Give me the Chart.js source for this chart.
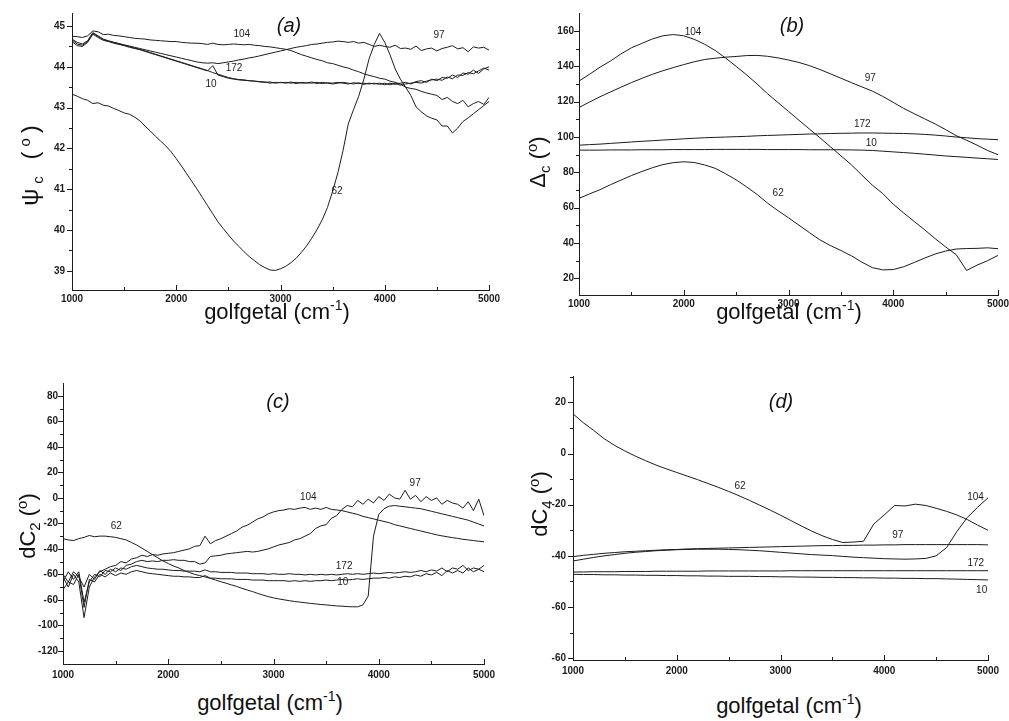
<!DOCTYPE html>
<html>
<head>
<meta charset="utf-8">
<script src="https://cdn.jsdelivr.net/npm/chart.js@4/dist/chart.umd.min.js"></script>
<style>
html,body{margin:0;padding:0;background:#fff;}
#wrap{position:relative;width:1009px;height:721px;overflow:hidden;font-family:'Liberation Sans',Arial,sans-serif;color:#111;}
canvas{position:absolute;}
.yt{position:absolute;font-size:22px;white-space:nowrap;transform:translate(-50%,-50%) rotate(-90deg);line-height:1;}
.xt{position:absolute;font-size:22px;white-space:nowrap;transform:translate(-50%,-50%);line-height:1;}
.pl{position:absolute;font-size:20px;font-style:italic;transform:translate(-50%,-50%);line-height:1;}
.sb{font-size:15px;position:relative;top:5px;}
.sp{font-size:14px;position:relative;top:-9px;}
.dg{font-size:15px;position:relative;top:-8px;}
.wide{font-size:24px;letter-spacing:5px;}
</style>
</head>
<body>
<div id="wrap">
<canvas id="cA"></canvas>
<canvas id="cB"></canvas>
<canvas id="cC"></canvas>
<canvas id="cD"></canvas>
<div class="yt wide" style="left:30px;top:163px">ψ<span class="sb">c</span> (<span class="dg">o</span>)</div>
<div class="yt" style="left:538px;top:162px">Δ<span class="sb">c</span> (<span class="dg">o</span>)</div>
<div class="yt" style="left:28px;top:526px">dC<span class="sb">2</span> (<span class="dg">o</span>)</div>
<div class="yt" style="left:540px;top:504px">dC<span class="sb">4</span> (<span class="dg">o</span>)</div>
<div class="xt" style="left:277px;top:312px">golfgetal (cm<span class="sp">-1</span>)</div>
<div class="xt" style="left:789px;top:312px">golfgetal (cm<span class="sp">-1</span>)</div>
<div class="xt" style="left:270px;top:703px">golfgetal (cm<span class="sp">-1</span>)</div>
<div class="xt" style="left:789px;top:706px">golfgetal (cm<span class="sp">-1</span>)</div>
<div class="pl" style="left:289px;top:25px">(a)</div>
<div class="pl" style="left:792px;top:25px">(b)</div>
<div class="pl" style="left:278px;top:401px">(c)</div>
<div class="pl" style="left:781px;top:401px">(d)</div>
</div>
<script>
// ---------- wavenumber grids (cm^-1) ----------
const wn50 = [1000,1050,1100,1150,1200,1250,1300,1350,1400,1450,
  1500,1550,1600,1650,1700,1750,1800,1850,1900,1950,
  2000,2050,2100,2150,2200,2250,2300,2350,2400,2450,
  2500,2550,2600,2650,2700,2750,2800,2850,2900,2950,
  3000,3050,3100,3150,3200,3250,3300,3350,3400,3450,
  3500,3550,3600,3650,3700,3750,3800,3850,3900,3950,
  4000,4050,4100,4150,4200,4250,4300,4350,4400,4450,
  4500,4550,4600,4650,4700,4750,4800,4850,4900,4950,
  5000];
const wn100 = [1000,1100,1200,1300,1400,1500,1600,1700,1800,1900,
  2000,2100,2200,2300,2400,2500,2600,2700,2800,2900,
  3000,3100,3200,3300,3400,3500,3600,3700,3800,3900,
  4000,4100,4200,4300,4400,4500,4600,4700,4800,4900,
  5000];

// ---------- (a) psi_c ----------
const psi104 = [44.75,44.74,44.72,44.76,44.88,44.86,44.79,44.80,44.77,44.76,
  44.74,44.72,44.70,44.69,44.68,44.66,44.65,44.64,44.63,44.62,
  44.62,44.60,44.59,44.58,44.58,44.57,44.55,44.58,44.55,44.54,
  44.55,44.56,44.55,44.54,44.55,44.53,44.52,44.50,44.49,44.47,
  44.45,44.43,44.40,44.35,44.30,44.26,44.22,44.18,44.15,44.10,
  44.08,44.04,44.00,43.97,43.92,43.88,43.83,43.79,43.76,43.72,
  43.70,43.65,43.62,43.58,43.50,43.47,43.45,43.40,43.36,43.33,
  43.30,43.20,43.25,43.15,43.10,43.18,43.02,43.10,43.15,43.08,
  43.25];
const psi97 = [44.66,44.56,44.53,44.62,44.82,44.75,44.67,44.63,44.60,44.57,
  44.54,44.51,44.48,44.45,44.42,44.39,44.36,44.33,44.30,44.27,
  44.24,44.21,44.18,44.15,44.12,44.10,44.09,44.10,44.08,44.10,
  44.12,44.14,44.17,44.19,44.22,44.24,44.27,44.30,44.33,44.36,
  44.39,44.42,44.45,44.48,44.50,44.52,44.55,44.56,44.58,44.60,
  44.61,44.63,44.62,44.60,44.62,44.58,44.60,44.55,44.50,44.53,
  44.50,44.48,44.53,44.45,44.46,44.43,44.51,44.40,44.44,44.46,
  44.39,44.45,44.48,44.52,44.44,44.47,44.37,44.49,44.46,44.48,
  44.41];
const psi172 = [44.68,44.60,44.56,44.64,44.84,44.76,44.68,44.64,44.60,44.57,
  44.53,44.50,44.46,44.43,44.39,44.35,44.31,44.27,44.23,44.19,
  44.15,44.11,44.07,44.03,43.99,43.95,43.91,43.86,43.82,43.78,
  43.74,43.71,43.69,43.68,43.66,43.65,43.63,43.62,43.63,43.60,
  43.62,43.60,43.63,43.59,43.62,43.60,43.63,43.59,43.62,43.60,
  43.58,43.60,43.62,43.60,43.58,43.61,43.57,43.60,43.58,43.60,
  43.56,43.60,43.57,43.60,43.62,43.58,43.64,43.66,43.62,43.70,
  43.66,43.74,43.72,43.80,43.74,43.85,43.82,43.92,43.84,43.95,
  44.00];
const psi10 = [44.62,44.52,44.50,44.60,44.80,44.72,44.65,44.62,44.58,44.55,
  44.52,44.48,44.45,44.42,44.38,44.34,44.30,44.26,44.22,44.18,
  44.14,44.10,44.06,44.02,43.98,43.94,43.90,44.03,43.80,43.76,
  43.72,43.70,43.68,43.67,43.66,43.65,43.64,43.63,43.60,43.62,
  43.61,43.62,43.60,43.62,43.60,43.61,43.60,43.62,43.59,43.61,
  43.60,43.62,43.60,43.58,43.61,43.59,43.60,43.58,43.60,43.57,
  43.60,43.56,43.60,43.55,43.58,43.60,43.62,43.60,43.65,43.68,
  43.70,43.67,43.75,43.71,43.80,43.79,43.86,43.83,43.90,43.97,
  43.92];
const psi62 = [43.33,43.28,43.22,43.18,43.10,43.12,43.06,43.04,42.98,42.93,
  42.87,42.84,42.77,42.68,42.55,42.43,42.30,42.18,42.06,41.92,
  41.75,41.57,41.38,41.19,41.00,40.80,40.60,40.40,40.20,40.04,
  39.88,39.73,39.60,39.47,39.35,39.25,39.15,39.08,39.02,39.01,
  39.05,39.11,39.20,39.31,39.45,39.61,39.80,40.01,40.25,40.55,
  40.95,41.40,41.95,42.60,42.95,43.28,43.70,44.20,44.55,44.82,
  44.60,44.30,43.95,43.70,43.50,43.30,43.02,42.90,42.80,42.74,
  42.70,42.55,42.55,42.38,42.50,42.66,42.75,42.85,42.95,43.05,
  43.15];

// ---------- (b) Delta_c ----------
const delta104 = [131.7,135.5,139.5,143.0,147.0,150.5,153.0,155.5,157.3,158.0,
  157.3,155.3,152.5,149.0,144.7,140.0,135.2,130.0,124.5,119.5,
  114.5,109.5,104.5,99.6,94.5,89.4,84.3,78.5,72.8,68.0,
  62.0,57.0,52.2,47.5,42.5,37.8,33.5,24.5,27.5,30.0,
  33.0];
const delta97 = [116.7,119.8,122.8,125.5,128.2,130.8,133.2,135.5,137.5,139.3,
  141.0,142.6,143.9,144.6,145.2,145.6,146.1,146.2,145.7,144.8,
  143.6,142.2,140.4,138.2,135.8,133.3,130.8,128.4,126.0,123.0,
  119.6,116.2,113.2,110.3,107.4,104.2,100.8,98.2,95.4,92.4,
  90.0];
const delta172 = [95.4,95.7,96.0,96.4,96.8,97.2,97.6,97.9,98.3,98.6,
  99.0,99.3,99.6,99.8,100.0,100.2,100.4,100.7,100.9,101.1,
  101.3,101.5,101.7,101.8,102.0,102.1,102.2,102.3,102.3,102.2,
  102.1,102.0,101.8,101.5,101.1,100.6,100.0,99.6,99.1,98.8,
  98.5];
const delta10 = [92.6,92.6,92.6,92.7,92.7,92.7,92.8,92.8,92.8,92.9,
  92.9,92.9,92.9,93.0,93.0,93.0,93.0,93.0,92.9,92.9,
  92.9,92.9,92.8,92.8,92.8,92.8,92.7,92.6,92.4,92.0,
  91.6,91.2,90.8,90.3,89.8,89.3,88.9,88.5,88.1,87.7,
  87.3];
const delta62 = [65.3,67.8,70.2,73.0,75.6,78.2,80.5,82.6,84.4,85.5,
  86.0,85.6,84.2,82.3,79.2,75.8,71.8,67.5,62.6,58.3,
  54.3,50.1,45.9,41.8,38.6,35.8,32.8,29.2,26.1,24.8,
  25.0,26.6,29.0,31.5,33.8,35.5,36.6,36.9,37.0,37.3,
  36.8];

// ---------- (c) dC2 ----------
const dc2_62 = [-32,-33,-33.5,-32,-31,-29.5,-30.5,-30,-30,-30.5,
  -31,-32,-33,-35,-37,-39.5,-42,-44.5,-47,-49.5,
  -51.5,-53.5,-55,-57,-58.5,-60,-61,-62,-63.2,-64.5,
  -65.8,-67,-68.3,-69.5,-71,-72.3,-73.5,-75,-76.3,-77.5,
  -78.5,-79.3,-80,-80.7,-81.3,-81.8,-82.3,-82.8,-83.2,-83.7,
  -84,-84.4,-84.8,-85,-85.3,-85.5,-85.5,-84,-77,-30,
  -13,-8.5,-6.5,-6,-6.5,-7,-7.5,-8,-8.5,-9.5,
  -10.5,-11.5,-12.5,-13.5,-14.5,-15.5,-16.5,-17.5,-19,-20.5,
  -22];
const dc2_104 = [-62,-70,-60,-66,-94,-70,-62,-58,-56,-54,
  -53,-50,-51,-48,-47,-45,-46,-44.5,-45,-44,
  -43.5,-43,-42,-41,-40,-38,-37.5,-30,-36,-33.5,
  -32,-30,-28,-26,-23,-21.5,-19,-16.5,-15,-12.5,
  -11,-10,-9.5,-8.5,-9,-8,-7.5,-9,-8,-9,
  -7.5,-9,-9.5,-10,-11,-12,-13,-14.5,-15.5,-16.5,
  -17.5,-18.5,-19.5,-21,-22,-23,-24,-25,-26,-27,
  -28,-29,-29.8,-30.5,-31.2,-31.8,-32.5,-33,-33.5,-34,
  -34.5];
const dc2_97 = [-66,-58,-64,-58,-82,-66,-60,-62,-57,-58,
  -55,-57,-53,-52,-50,-49,-50,-49.5,-50,-49,
  -49,-48.5,-49,-49,-50,-50,-52,-51,-46,-45.5,
  -45,-44,-43.5,-43,-42.5,-42,-42.5,-42,-41,-40,
  -38.5,-37,-36,-35,-33,-32,-30,-28,-24,-22,
  -21,-16,-14,-9,-6,-7,-2,-5,-1,-4,
  1,-2,3,0,-1,6,-1,2,-3,1,
  -2,0,-5,-2,-4,-5,-8,-3,-10,-1,
  -14];
const dc2_172 = [-60,-66,-58,-62,-70,-60,-64,-57,-60,-56,
  -58,-55,-56,-54,-53,-54,-55,-55.5,-56,-56,
  -56.5,-57,-57,-57.5,-57.5,-57.5,-58,-56.5,-58,-58,
  -58.5,-58.5,-58.5,-59,-59,-59,-59.5,-59.5,-59.5,-60,
  -59.5,-60,-60,-59.5,-60,-60,-60.5,-60,-60.5,-60,
  -60.5,-60,-60.5,-60,-59.5,-60,-59.5,-60,-59.5,-59,
  -59.5,-59,-58.5,-59,-58.5,-58,-58.5,-58,-57,-58,
  -56.5,-57.5,-55,-58,-55,-56,-53,-57,-55,-56,
  -53];
const dc2_10 = [-72,-66,-68,-60,-86,-64,-66,-60,-62,-59,
  -61,-59,-60,-58,-57,-58,-59,-59.5,-60,-60.5,
  -61,-61.5,-61.5,-62,-62,-62.5,-62.5,-61,-63,-63,
  -63.5,-63.5,-63.5,-64,-64,-64,-64.5,-64.5,-64.5,-65,
  -65,-65,-65,-65.5,-65,-65.5,-65,-65.5,-65,-65,
  -64.5,-65,-64.5,-64,-64.5,-64,-63.5,-64,-63.5,-63,
  -63,-62.5,-63,-62,-62.5,-61.5,-62,-60.5,-61.5,-59.5,
  -60.5,-58.5,-61,-57,-59,-57,-59,-55,-58,-56,
  -58];

// ---------- (d) dC4 ----------
const dc4_62 = [15.5,12.0,9.0,5.8,3.2,1.0,-1.0,-2.8,-4.5,-6.0,
  -7.4,-8.8,-10.2,-11.7,-13.2,-14.8,-16.5,-18.3,-20.2,-22.1,
  -24.1,-26.2,-28.3,-30.3,-32.1,-33.6,-34.8,-34.6,-34.3,-27.5,
  -24.0,-20.3,-20.5,-19.8,-20.3,-21.4,-22.6,-24.0,-25.8,-28.0,
  -30.0];
const dc4_104 = [-42.0,-41.3,-40.6,-40.0,-39.5,-39.0,-38.6,-38.3,-38.0,-37.8,
  -37.6,-37.5,-37.4,-37.4,-37.4,-37.5,-37.6,-37.8,-38.0,-38.3,
  -38.6,-38.9,-39.2,-39.5,-39.7,-39.9,-40.2,-40.5,-40.7,-40.9,
  -41.1,-41.2,-41.3,-41.2,-41.0,-40.0,-36.8,-30.5,-25.0,-21.0,
  -17.3];
const dc4_97 = [-40.3,-39.8,-39.4,-39.0,-38.7,-38.4,-38.2,-38.0,-37.8,-37.6,
  -37.5,-37.3,-37.2,-37.1,-37.0,-36.9,-36.8,-36.7,-36.6,-36.5,
  -36.4,-36.3,-36.2,-36.1,-36.0,-36.0,-35.9,-35.9,-35.8,-35.8,
  -35.7,-35.7,-35.6,-35.6,-35.6,-35.6,-35.6,-35.6,-35.6,-35.6,
  -35.7];
const dc4_172 = [-46.3,-46.3,-46.2,-46.2,-46.2,-46.1,-46.1,-46.1,-46.0,-46.0,
  -46.0,-46.0,-46.0,-45.9,-45.9,-45.9,-45.9,-45.9,-45.9,-45.9,
  -45.9,-45.8,-45.8,-45.8,-45.8,-45.8,-45.8,-45.8,-45.8,-45.8,
  -45.8,-45.8,-45.8,-45.8,-45.8,-45.8,-45.8,-45.8,-45.8,-45.8,
  -45.8];
const dc4_10 = [-47.2,-47.3,-47.3,-47.4,-47.4,-47.5,-47.5,-47.6,-47.6,-47.7,
  -47.7,-47.8,-47.8,-47.9,-47.9,-48.0,-48.0,-48.0,-48.1,-48.1,
  -48.2,-48.2,-48.3,-48.3,-48.4,-48.4,-48.5,-48.5,-48.6,-48.6,
  -48.7,-48.7,-48.8,-48.8,-48.9,-48.9,-49.0,-49.1,-49.2,-49.3,
  -49.4];

// ---------- ticks ----------
const xMajor = [1000,2000,3000,4000,5000];
const xMinor = [1500,2500,3500,4500];
const xTickLabels = ['1000','2000','3000','4000','5000'];
const yMajorA = [39,40,41,42,43,44,45];
const yMinorA = [39.5,40.5,41.5,42.5,43.5,44.5];
const yLabelsA = ['39','40','41','42','43','44','45'];
const yMajorB = [20,40,60,80,100,120,140,160];
const yMinorB = [30,50,70,90,110,130,150];
const yLabelsB = ['20','40','60','80','100','120','140','160'];
const yMajorC = [-120,-100,-80,-60,-40,-20,0,20,40,60,80];
const yMinorC = [-110,-90,-70,-50,-30,-10,10,30,50,70];
const yLabelsC = ['-120','-100','-60','-60','-40','-20','0','20','40','60','80'];
const yMajorD = [-80,-60,-40,-20,0,20];
const yMinorD = [-70,-50,-30,-10,10,30];
const yLabelsD = ['-60','-60','-40','-20','0','20'];

// ---------- curve labels (text, wavenumber, value) ----------
const curveTextA = ['104','97','172','10','62'];
const curveXA = [2628,4520,2554,2333,3542];
const curveYA = [44.80,44.78,43.97,43.58,40.95];
const curveTextB = ['104','97','172','10','62'];
const curveXB = [2089,3780,3704,3791,2901];
const curveYB = [159.4,133.1,107.0,96.5,68.1];
const curveTextC = ['104','97','172','10','62'];
const curveXC = [3330,4346,3671,3659,1506];
const curveYC = [0.7,11.7,-54.0,-66.3,-22.6];
const curveTextD = ['104','97','172','10','62'];
const curveXD = [4880,4131,4882,4939,2610];
const curveYD = [-16.9,-31.8,-42.9,-53.3,-12.7];

// ---------- rendering ----------
const INK = '#1c1c1c';
const FONT = "'Liberation Sans', Arial, sans-serif";

function buildPanel(id, g, xs, seriesY, yMin, yMax, yMajor, yMinor, yLabels, lt, lx, ly, padX, padY) {
  const cv = document.getElementById(id);
  cv.width = g.w; cv.height = g.h;
  cv.style.left = g.x + 'px'; cv.style.top = g.y + 'px';
  const tickPlugin = {
    id: 'tickMarks_' + id,
    afterDraw(chart) {
      const ctx = chart.ctx, a = chart.chartArea, sx = chart.scales.x, sy = chart.scales.y;
      ctx.save(); ctx.strokeStyle = INK; ctx.lineWidth = 1; ctx.beginPath();
      const vx = (v, len) => { const p = Math.round(sx.getPixelForValue(v)) + 0.5; ctx.moveTo(p, a.bottom); ctx.lineTo(p, a.bottom - len); };
      const hy = (v, len) => { const p = Math.round(sy.getPixelForValue(v)) + 0.5; ctx.moveTo(a.left, p); ctx.lineTo(a.left - len, p); };
      xMajor.forEach(v => vx(v, 5)); xMinor.forEach(v => vx(v, 3));
      yMajor.forEach(v => hy(v, 5)); yMinor.forEach(v => hy(v, 3));
      ctx.stroke(); ctx.restore();
    }
  };
  const labelPlugin = {
    id: 'curveLabels_' + id,
    afterDatasetsDraw(chart) {
      const ctx = chart.ctx, sx = chart.scales.x, sy = chart.scales.y;
      ctx.save(); ctx.fillStyle = INK; ctx.font = '10px ' + FONT;
      ctx.textAlign = 'center'; ctx.textBaseline = 'middle';
      lt.forEach((t, i) => ctx.fillText(t, sx.getPixelForValue(lx[i]), sy.getPixelForValue(ly[i])));
      ctx.restore();
    }
  };
  return new Chart(cv, {
    type: 'line',
    data: {
      datasets: seriesY.map(arr => ({
        data: xs.map((x, i) => ({ x: x, y: arr[i] })),
        borderColor: INK, borderWidth: 1, pointRadius: 0, tension: 0, fill: false
      }))
    },
    options: {
      responsive: false, animation: false, devicePixelRatio: 1,
      layout: { padding: { top: g.pt, right: g.pr, left: 0, bottom: 0 } },
      plugins: { legend: { display: false }, tooltip: { enabled: false } },
      scales: {
        x: {
          type: 'linear', min: 1000, max: 5000,
          grid: { display: false, drawTicks: false }, border: { display: true, color: INK, width: 1 },
          ticks: {
            autoSkip: false, maxRotation: 0, padding: padX, color: INK,
            font: { family: FONT, size: 10, weight: 'bold' },
            callback: v => { const i = xMajor.indexOf(v); return i >= 0 ? xTickLabels[i] : ''; }
          },
          afterBuildTicks: s => { s.ticks = xMajor.map(v => ({ value: v })); },
          afterFit: s => { s.height = g.xh; s.paddingLeft = 0; s.paddingRight = 0; }
        },
        y: {
          type: 'linear', min: yMin, max: yMax,
          grid: { display: false, drawTicks: false }, border: { display: true, color: INK, width: 1 },
          ticks: {
            autoSkip: false, padding: padY, color: INK,
            font: { family: FONT, size: 10, weight: 'bold' },
            callback: v => { const i = yMajor.indexOf(v); return i >= 0 ? yLabels[i] : ''; }
          },
          afterBuildTicks: s => { s.ticks = yMajor.map(v => ({ value: v })); },
          afterFit: s => { s.width = g.yw; s.paddingTop = 0; s.paddingBottom = 0; }
        }
      }
    },
    plugins: [tickPlugin, labelPlugin]
  });
}

buildPanel('cA', { x: 0, y: 0, w: 505, h: 315, yw: 72, pt: 13, pr: 16, xh: 25 }, wn50,
  [psi104, psi97, psi172, psi10, psi62], 38.53, 45.32, yMajorA, yMinorA, yLabelsA,
  curveTextA, curveXA, curveYA, 3, 7);
buildPanel('cB', { x: 505, y: 0, w: 504, h: 315, yw: 74, pt: 13, pr: 11, xh: 20 }, wn100,
  [delta104, delta97, delta172, delta10, delta62], 10.6, 170.2, yMajorB, yMinorB, yLabelsB,
  curveTextB, curveXB, curveYB, 3, 5);
buildPanel('cC', { x: 0, y: 365, w: 505, h: 320, yw: 63, pt: 18, pr: 21, xh: 21 }, wn50,
  [dc2_62, dc2_104, dc2_97, dc2_172, dc2_10], -130.4, 90.2, yMajorC, yMinorC, yLabelsC,
  curveTextC, curveXC, curveYC, 5, 5);
buildPanel('cD', { x: 505, y: 365, w: 504, h: 315, yw: 68, pt: 11, pr: 21, xh: 20 }, wn100,
  [dc4_62, dc4_104, dc4_97, dc4_172, dc4_10], -80.7, 30.3, yMajorD, yMinorD, yLabelsD,
  curveTextD, curveXD, curveYD, 5, 7);
</script>
</body>
</html>
